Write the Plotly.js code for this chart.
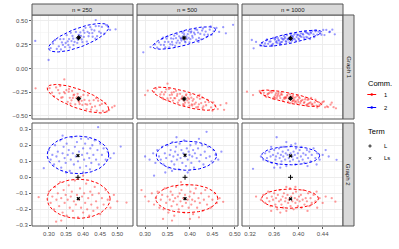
<!DOCTYPE html>
<html><head><meta charset="utf-8">
<script src="https://cdn.plot.ly/plotly-3.0.1.min.js"></script>
<style>html,body{margin:0;padding:0;background:#fff}#chart{width:399px;height:249px}</style>
</head><body><div id="chart"></div>
<script>
const sizeLabels = ["n = 250", "n = 500", "n = 1000"];
const graphLabels = ["Graph 1", "Graph 2"];
const commLabels = ["1", "2"];
const termLabels = ["L", "Ls"];

// ---------- Graph 1 ----------
const g1_250_c2 = [[0.299,0.089],[0.260,0.290],[0.495,0.412],[0.437,0.510],[0.312,0.263],[0.347,0.225],[0.401,0.401],[0.366,0.288],[0.428,0.334],[0.389,0.346],[0.455,0.437],[0.333,0.308],[0.372,0.246],[0.418,0.372],[0.396,0.305],[0.341,0.248],[0.462,0.366],[0.379,0.384],[0.305,0.214],[0.437,0.445],[0.359,0.310],[0.411,0.283],[0.385,0.302],[0.352,0.351],[0.447,0.387],[0.323,0.206],[0.404,0.375],[0.369,0.342],[0.473,0.439],[0.338,0.274],[0.392,0.380],[0.425,0.410],[0.357,0.247],[0.416,0.339],[0.381,0.317],[0.441,0.340],[0.318,0.300],[0.398,0.277],[0.364,0.376],[0.433,0.400],[0.349,0.268],[0.407,0.428],[0.375,0.279],[0.452,0.373],[0.329,0.233],[0.387,0.354],[0.421,0.435],[0.361,0.222],[0.468,0.455],[0.394,0.343],[0.343,0.310],[0.413,0.386],[0.371,0.314],[0.436,0.314],[0.383,0.269],[0.402,0.332],[0.355,0.285],[0.427,0.373],[0.335,0.200],[0.479,0.406],[0.446,0.446]];
const g1_250_c1 = [[0.261,-0.209],[0.345,-0.115],[0.492,-0.395],[0.309,-0.255],[0.351,-0.227],[0.398,-0.384],[0.372,-0.282],[0.431,-0.334],[0.386,-0.339],[0.458,-0.447],[0.336,-0.308],[0.368,-0.237],[0.421,-0.372],[0.393,-0.298],[0.344,-0.248],[0.465,-0.366],[0.377,-0.378],[0.302,-0.207],[0.440,-0.445],[0.361,-0.309],[0.414,-0.283],[0.383,-0.296],[0.355,-0.351],[0.449,-0.386],[0.321,-0.200],[0.407,-0.375],[0.366,-0.335],[0.476,-0.439],[0.331,-0.262],[0.390,-0.374],[0.426,-0.408],[0.358,-0.245],[0.418,-0.338],[0.380,-0.312],[0.444,-0.340],[0.315,-0.293],[0.401,-0.278],[0.363,-0.371],[0.435,-0.399],[0.347,-0.262],[0.410,-0.428],[0.374,-0.275],[0.455,-0.373],[0.327,-0.227],[0.388,-0.352],[0.423,-0.434],[0.359,-0.216],[0.470,-0.452],[0.396,-0.341],[0.340,-0.303],[0.412,-0.381],[0.370,-0.310],[0.438,-0.313],[0.384,-0.267],[0.404,-0.331],[0.485,-0.410],[0.333,-0.185]];
const g1_500_c2 = [[0.296,0.170],[0.496,0.460],[0.312,0.225],[0.480,0.370],[0.331,0.274],[0.356,0.254],[0.402,0.379],[0.379,0.321],[0.420,0.321],[0.365,0.345],[0.444,0.409],[0.342,0.247],[0.390,0.275],[0.411,0.360],[0.373,0.294],[0.395,0.361],[0.437,0.331],[0.348,0.314],[0.383,0.376],[0.427,0.399],[0.361,0.250],[0.406,0.324],[0.385,0.309],[0.453,0.390],[0.338,0.312],[0.399,0.275],[0.369,0.319],[0.416,0.406],[0.352,0.279],[0.432,0.355],[0.377,0.269],[0.392,0.337],[0.446,0.442],[0.327,0.219],[0.409,0.377],[0.363,0.312],[0.387,0.361],[0.423,0.364],[0.345,0.221],[0.401,0.308],[0.371,0.362],[0.440,0.355],[0.358,0.316],[0.414,0.303],[0.381,0.294],[0.397,0.393],[0.459,0.427],[0.335,0.249],[0.429,0.421],[0.367,0.237],[0.393,0.308],[0.418,0.378],[0.350,0.337],[0.384,0.337],[0.405,0.343],[0.376,0.338],[0.435,0.389],[0.344,0.279],[0.389,0.283],[0.412,0.411],[0.360,0.279],[0.425,0.307],[0.397,0.323],[0.465,0.385],[0.322,0.253],[0.380,0.313],[0.403,0.390],[0.354,0.221],[0.448,0.354],[0.370,0.271],[0.386,0.390],[0.419,0.279],[0.340,0.325],[0.474,0.435]];
const g1_500_c1 = [[0.306,-0.234],[0.481,-0.366],[0.300,-0.280],[0.350,-0.160],[0.334,-0.274],[0.359,-0.254],[0.404,-0.378],[0.381,-0.321],[0.422,-0.320],[0.362,-0.338],[0.447,-0.410],[0.345,-0.248],[0.392,-0.274],[0.413,-0.359],[0.371,-0.289],[0.397,-0.360],[0.439,-0.330],[0.350,-0.314],[0.385,-0.376],[0.430,-0.400],[0.364,-0.250],[0.408,-0.323],[0.388,-0.309],[0.456,-0.391],[0.339,-0.310],[0.401,-0.275],[0.367,-0.314],[0.418,-0.405],[0.355,-0.280],[0.434,-0.354],[0.378,-0.267],[0.394,-0.336],[0.450,-0.444],[0.325,-0.214],[0.410,-0.376],[0.365,-0.312],[0.389,-0.360],[0.425,-0.364],[0.347,-0.220],[0.403,-0.307],[0.373,-0.361],[0.442,-0.354],[0.357,-0.312],[0.416,-0.303],[0.383,-0.293],[0.399,-0.392],[0.462,-0.428],[0.337,-0.248],[0.428,-0.417],[0.369,-0.236],[0.395,-0.308],[0.420,-0.378],[0.352,-0.336],[0.386,-0.337],[0.406,-0.341],[0.376,-0.335],[0.436,-0.387],[0.342,-0.274],[0.391,-0.283],[0.414,-0.410],[0.360,-0.276],[0.427,-0.306],[0.398,-0.321],[0.468,-0.385],[0.320,-0.248],[0.382,-0.312],[0.405,-0.390],[0.353,-0.217],[0.452,-0.356],[0.372,-0.270],[0.387,-0.388],[0.421,-0.279],[0.341,-0.323],[0.476,-0.435]];
const g1_1000_c2 = [[0.323,0.300],[0.326,0.212],[0.452,0.387],[0.460,0.360],[0.330,0.280],[0.352,0.282],[0.371,0.277],[0.398,0.353],[0.384,0.314],[0.409,0.327],[0.366,0.320],[0.421,0.373],[0.358,0.260],[0.389,0.291],[0.402,0.348],[0.377,0.315],[0.393,0.356],[0.415,0.325],[0.361,0.304],[0.381,0.350],[0.428,0.392],[0.369,0.264],[0.405,0.332],[0.386,0.307],[0.436,0.373],[0.347,0.295],[0.396,0.290],[0.374,0.311],[0.412,0.381],[0.364,0.288],[0.425,0.358],[0.379,0.287],[0.391,0.333],[0.441,0.405],[0.343,0.240],[0.407,0.364],[0.372,0.318],[0.388,0.349],[0.418,0.359],[0.356,0.247],[0.400,0.315],[0.376,0.343],[0.431,0.356],[0.367,0.302],[0.410,0.308],[0.383,0.303],[0.395,0.369],[0.446,0.406],[0.350,0.259],[0.423,0.396],[0.370,0.256],[0.392,0.315],[0.414,0.374],[0.359,0.321],[0.385,0.325],[0.403,0.339],[0.378,0.326],[0.433,0.389],[0.354,0.284],[0.390,0.302],[0.411,0.390],[0.363,0.276],[0.426,0.329],[0.397,0.331],[0.451,0.382],[0.340,0.266],[0.382,0.311],[0.404,0.370],[0.357,0.238],[0.438,0.355],[0.373,0.280],[0.387,0.368],[0.419,0.310],[0.348,0.307],[0.456,0.409],[0.380,0.279],[0.399,0.354],[0.365,0.269],[0.416,0.366],[0.394,0.307],[0.375,0.302],[0.408,0.356],[0.429,0.400],[0.345,0.263],[0.401,0.306],[0.362,0.315],[0.385,0.275],[0.420,0.382],[0.368,0.293],[0.443,0.352],[0.390,0.342],[0.413,0.332],[0.337,0.242]];
const g1_1000_c1 = [[0.315,-0.244],[0.447,-0.400],[0.455,-0.360],[0.325,-0.280],[0.462,-0.420],[0.349,-0.274],[0.373,-0.276],[0.396,-0.346],[0.386,-0.313],[0.411,-0.326],[0.364,-0.314],[0.423,-0.372],[0.356,-0.253],[0.391,-0.289],[0.404,-0.346],[0.379,-0.313],[0.394,-0.353],[0.417,-0.324],[0.360,-0.298],[0.383,-0.349],[0.430,-0.391],[0.367,-0.258],[0.407,-0.330],[0.388,-0.305],[0.438,-0.371],[0.345,-0.289],[0.398,-0.289],[0.376,-0.309],[0.414,-0.380],[0.362,-0.281],[0.427,-0.357],[0.381,-0.286],[0.393,-0.332],[0.444,-0.409],[0.341,-0.233],[0.409,-0.363],[0.370,-0.312],[0.390,-0.348],[0.420,-0.358],[0.354,-0.240],[0.402,-0.314],[0.374,-0.337],[0.433,-0.355],[0.365,-0.295],[0.412,-0.307],[0.385,-0.301],[0.397,-0.367],[0.449,-0.406],[0.352,-0.258],[0.425,-0.394],[0.372,-0.254],[0.392,-0.311],[0.416,-0.372],[0.358,-0.316],[0.384,-0.320],[0.405,-0.338],[0.377,-0.321],[0.435,-0.387],[0.350,-0.265],[0.389,-0.297],[0.413,-0.388],[0.366,-0.276],[0.428,-0.328],[0.399,-0.330],[0.453,-0.381],[0.338,-0.259],[0.380,-0.305],[0.403,-0.365],[0.359,-0.237],[0.440,-0.354],[0.371,-0.273],[0.387,-0.364],[0.421,-0.309],[0.347,-0.301],[0.458,-0.408],[0.382,-0.277],[0.400,-0.351],[0.363,-0.262],[0.418,-0.365],[0.395,-0.305],[0.378,-0.302],[0.410,-0.354],[0.431,-0.412],[0.343,-0.256],[0.401,-0.302],[0.361,-0.310],[0.386,-0.273],[0.422,-0.380],[0.369,-0.290],[0.442,-0.347],[0.391,-0.339],[0.415,-0.331],[0.336,-0.237]];

// ---------- Graph 2 ----------
const g2_250_c2 = [[0.444,0.313],[0.510,0.192],[0.285,0.057],[0.300,0.170],[0.305,0.110],[0.310,0.140],[0.315,0.080],[0.318,0.200],[0.322,0.130],[0.326,0.160],[0.330,0.100],[0.333,0.230],[0.336,0.060],[0.340,0.150],[0.343,0.190],[0.346,0.120],[0.349,0.090],[0.352,0.210],[0.355,0.140],[0.358,0.170],[0.361,0.040],[0.364,0.110],[0.367,0.250],[0.370,0.150],[0.373,0.080],[0.376,0.190],[0.379,0.130],[0.382,0.220],[0.385,0.100],[0.388,0.160],[0.391,0.060],[0.394,0.240],[0.397,0.140],[0.400,0.180],[0.403,0.110],[0.406,0.210],[0.409,0.070],[0.412,0.150],[0.415,0.240],[0.418,0.120],[0.421,0.180],[0.424,0.090],[0.427,0.200],[0.430,0.140],[0.434,0.230],[0.438,0.110],[0.442,0.170],[0.446,0.080],[0.450,0.210],[0.455,0.140],[0.460,0.180],[0.466,0.110],[0.472,0.160],[0.480,0.120],[0.490,0.150],[0.350,0.030],[0.400,0.030],[0.420,0.050],[0.340,0.260]];
const g2_250_c1 = [[0.270,-0.124],[0.527,-0.158],[0.321,-0.277],[0.336,-0.270],[0.400,0.010],[0.300,-0.090],[0.305,-0.160],[0.310,-0.120],[0.315,-0.200],[0.318,-0.060],[0.322,-0.140],[0.326,-0.100],[0.330,-0.180],[0.333,-0.030],[0.336,-0.130],[0.340,-0.220],[0.343,-0.080],[0.346,-0.160],[0.349,-0.110],[0.352,-0.240],[0.355,-0.140],[0.358,-0.050],[0.361,-0.190],[0.364,-0.120],[0.367,-0.090],[0.370,-0.210],[0.373,-0.150],[0.376,-0.020],[0.379,-0.170],[0.382,-0.110],[0.385,-0.250],[0.388,-0.140],[0.391,-0.070],[0.394,-0.190],[0.397,-0.120],[0.400,-0.220],[0.403,-0.100],[0.406,-0.160],[0.409,-0.040],[0.412,-0.200],[0.415,-0.130],[0.418,-0.240],[0.421,-0.090],[0.424,-0.170],[0.427,-0.110],[0.430,-0.210],[0.434,-0.060],[0.438,-0.150],[0.442,-0.190],[0.446,-0.100],[0.450,-0.230],[0.455,-0.130],[0.460,-0.170],[0.466,-0.080],[0.472,-0.140],[0.480,-0.190],[0.490,-0.110],[0.500,-0.150]];
const g2_500_c2 = [[0.437,0.284],[0.320,0.010],[0.300,0.130],[0.310,0.110],[0.318,0.150],[0.323,0.090],[0.327,0.170],[0.331,0.130],[0.335,0.110],[0.338,0.190],[0.341,0.080],[0.344,0.150],[0.347,0.120],[0.350,0.200],[0.352,0.060],[0.355,0.140],[0.357,0.170],[0.359,0.100],[0.361,0.220],[0.363,0.130],[0.365,0.080],[0.367,0.160],[0.369,0.190],[0.371,0.110],[0.373,0.140],[0.375,0.050],[0.377,0.210],[0.379,0.120],[0.381,0.170],[0.383,0.090],[0.385,0.150],[0.387,0.230],[0.389,0.130],[0.391,0.070],[0.393,0.180],[0.395,0.110],[0.397,0.160],[0.399,0.140],[0.401,0.200],[0.403,0.090],[0.405,0.130],[0.407,0.170],[0.409,0.060],[0.411,0.150],[0.413,0.210],[0.415,0.120],[0.418,0.180],[0.421,0.100],[0.424,0.140],[0.427,0.200],[0.430,0.080],[0.433,0.160],[0.436,0.120],[0.440,0.190],[0.444,0.130],[0.448,0.100],[0.452,0.170],[0.457,0.140],[0.463,0.110],[0.470,0.160],[0.345,0.030],[0.370,0.250],[0.395,0.030],[0.420,0.240],[0.360,0.040]];
const g2_500_c1 = [[0.292,-0.080],[0.474,-0.153],[0.300,-0.120],[0.308,-0.150],[0.315,-0.100],[0.320,-0.170],[0.324,-0.130],[0.328,-0.090],[0.332,-0.190],[0.335,-0.140],[0.338,-0.110],[0.341,-0.200],[0.344,-0.070],[0.347,-0.160],[0.350,-0.120],[0.352,-0.220],[0.355,-0.140],[0.357,-0.090],[0.359,-0.180],[0.361,-0.110],[0.363,-0.150],[0.365,-0.240],[0.367,-0.130],[0.369,-0.060],[0.371,-0.170],[0.373,-0.120],[0.375,-0.200],[0.377,-0.100],[0.379,-0.150],[0.381,-0.080],[0.383,-0.180],[0.385,-0.130],[0.387,-0.220],[0.389,-0.110],[0.391,-0.160],[0.393,-0.050],[0.395,-0.140],[0.397,-0.190],[0.399,-0.120],[0.401,-0.090],[0.403,-0.170],[0.405,-0.140],[0.407,-0.230],[0.409,-0.100],[0.411,-0.150],[0.413,-0.070],[0.416,-0.190],[0.419,-0.130],[0.422,-0.160],[0.425,-0.100],[0.428,-0.210],[0.431,-0.140],[0.434,-0.080],[0.438,-0.170],[0.442,-0.120],[0.446,-0.190],[0.450,-0.140],[0.455,-0.100],[0.460,-0.160],[0.466,-0.130],[0.340,-0.260],[0.380,-0.030],[0.420,-0.250],[0.360,-0.270],[0.400,-0.260]];
const g2_1000_c2 = [[0.325,0.053],[0.463,0.109],[0.364,0.250],[0.338,0.130],[0.342,0.110],[0.345,0.150],[0.348,0.120],[0.350,0.100],[0.352,0.160],[0.354,0.130],[0.356,0.090],[0.358,0.140],[0.360,0.170],[0.362,0.110],[0.363,0.130],[0.365,0.080],[0.366,0.150],[0.368,0.180],[0.369,0.120],[0.371,0.140],[0.372,0.100],[0.374,0.160],[0.375,0.130],[0.376,0.190],[0.378,0.110],[0.379,0.150],[0.380,0.070],[0.382,0.140],[0.383,0.170],[0.384,0.120],[0.386,0.100],[0.387,0.150],[0.388,0.200],[0.390,0.130],[0.391,0.110],[0.392,0.160],[0.394,0.140],[0.395,0.080],[0.396,0.180],[0.398,0.120],[0.399,0.150],[0.401,0.100],[0.402,0.170],[0.404,0.130],[0.405,0.190],[0.407,0.110],[0.408,0.150],[0.410,0.090],[0.412,0.140],[0.414,0.170],[0.416,0.120],[0.418,0.160],[0.420,0.100],[0.422,0.140],[0.425,0.180],[0.428,0.120],[0.431,0.150],[0.435,0.110],[0.440,0.140],[0.445,0.170],[0.450,0.130],[0.370,0.060],[0.395,0.210],[0.415,0.070],[0.355,0.190],[0.380,0.220],[0.430,0.080],[0.360,0.060]];
const g2_1000_c1 = [[0.461,-0.152],[0.455,-0.130],[0.330,-0.120],[0.338,-0.140],[0.342,-0.110],[0.345,-0.160],[0.348,-0.130],[0.350,-0.090],[0.352,-0.150],[0.354,-0.180],[0.356,-0.120],[0.358,-0.140],[0.360,-0.100],[0.362,-0.170],[0.363,-0.130],[0.365,-0.200],[0.366,-0.110],[0.368,-0.150],[0.369,-0.080],[0.371,-0.140],[0.372,-0.170],[0.374,-0.120],[0.375,-0.190],[0.376,-0.100],[0.378,-0.150],[0.379,-0.130],[0.380,-0.210],[0.382,-0.110],[0.383,-0.160],[0.384,-0.140],[0.386,-0.070],[0.387,-0.180],[0.388,-0.120],[0.390,-0.150],[0.391,-0.100],[0.392,-0.200],[0.394,-0.130],[0.395,-0.160],[0.396,-0.090],[0.398,-0.140],[0.399,-0.180],[0.401,-0.120],[0.402,-0.150],[0.404,-0.110],[0.405,-0.190],[0.407,-0.140],[0.408,-0.080],[0.410,-0.170],[0.412,-0.130],[0.414,-0.150],[0.416,-0.100],[0.418,-0.180],[0.420,-0.130],[0.422,-0.160],[0.425,-0.110],[0.428,-0.150],[0.431,-0.190],[0.435,-0.130],[0.440,-0.160],[0.445,-0.120],[0.370,-0.220],[0.395,-0.060],[0.415,-0.210],[0.355,-0.210],[0.380,-0.060],[0.430,-0.090]];

// 95% ellipses per panel: [cx, cy, halfWidthX, halfHeightY, phaseDeg] for Comm 1, Comm 2
const ell_g1_250  = [[0.385,-0.318,0.090,0.150,136],[0.387,0.324,0.088,0.150,44]];
const ell_g1_500  = [[0.387,-0.318,0.071,0.122,138],[0.387,0.321,0.070,0.118,42]];
const ell_g1_1000 = [[0.387,-0.314,0.051,0.087,142],[0.387,0.318,0.051,0.085,38]];
const ell_g2_250  = [[0.387,-0.134,0.092,0.122,90],[0.385,0.140,0.090,0.117,90]];
const ell_g2_500  = [[0.393,-0.133,0.069,0.088,90],[0.392,0.135,0.067,0.091,90]];
const ell_g2_1000 = [[0.386,-0.133,0.047,0.060,90],[0.387,0.135,0.048,0.057,90]];

// Term estimates: Ls (per community) and L
const ls_g1_250 = [[0.387,-0.318],[0.387,0.324]];
const ls_g1_500 = [[0.387,-0.320],[0.387,0.321]];
const ls_g1_1000 = [[0.387,-0.314],[0.387,0.318]];
const ls_g2_250 = [[0.386,-0.133],[0.385,0.136]];
const ls_g2_500 = [[0.389,-0.133],[0.389,0.138]];
const ls_g2_1000 = [[0.387,-0.135],[0.387,0.134]];
const l_g1_250 = [[0.387,-0.318],[0.387,0.324]];
const l_g1_500 = [[0.387,-0.320],[0.387,0.321]];
const l_g1_1000 = [[0.387,-0.314],[0.387,0.318]];
const l_g2_250 = [[0.385,0.000]];
const l_g2_500 = [[0.389,0.000]];
const l_g2_1000 = [[0.387,0.000]];

const panels = [
  {r:0,c:0,p:[g1_250_c1,g1_250_c2],e:ell_g1_250,ls:ls_g1_250,l:l_g1_250},
  {r:0,c:1,p:[g1_500_c1,g1_500_c2],e:ell_g1_500,ls:ls_g1_500,l:l_g1_500},
  {r:0,c:2,p:[g1_1000_c1,g1_1000_c2],e:ell_g1_1000,ls:ls_g1_1000,l:l_g1_1000},
  {r:1,c:0,p:[g2_250_c1,g2_250_c2],e:ell_g2_250,ls:ls_g2_250,l:l_g2_250},
  {r:1,c:1,p:[g2_500_c1,g2_500_c2],e:ell_g2_500,ls:ls_g2_500,l:l_g2_500},
  {r:1,c:2,p:[g2_1000_c1,g2_1000_c2],e:ell_g2_1000,ls:ls_g2_1000,l:l_g2_1000}
];

const W = 399, H = 249;
const FONT = "Liberation Sans, Arial, Helvetica, sans-serif";
const px = v => v / W, py = v => 1 - v / H;
const colPx = [[32,133],[137,238],[242,343]];
const rowPx = [[15,119],[123,226]];
const colDom = colPx.map(a => [px(a[0]), px(a[1])]);
const rowDom = rowPx.map(a => [py(a[1]), py(a[0])]);
const xRanges = [[0.2505,0.546],[0.282,0.507],[0.3068,0.4736]];
const xTick = [[0.30,0.05],[0.30,0.05],[0.32,0.04]];
const yRanges = [[-0.532,0.563],[-0.304,0.339]];
const yTick = [[0,0.25,'.2f'],[0,0.1,'.1f']];
const commColors = ['#FF0000','#0000FF'];
const commPoint = ['rgba(255,0,0,0.4)','rgba(0,0,255,0.4)'];

const traces = [];
const layout = {
  width: W, height: H, autosize: false,
  margin: {l:0,r:0,t:0,b:0,pad:0},
  paper_bgcolor: '#ffffff', plot_bgcolor: '#ffffff',
  showlegend: false,
  font: {family: FONT, size: 6, color: '#4D4D4D'},
  shapes: [], annotations: []
};

function ellipse(p){
  const [cx,cy,A,B,d] = p; const xs=[], ys=[];
  for (let k=0;k<=90;k++){ const t=k*4*Math.PI/180;
    xs.push(cx + A*Math.cos(t)); ys.push(cy + B*Math.cos(t - d*Math.PI/180)); }
  return {xs, ys};
}

panels.forEach(pn => {
  const idx = pn.r*3 + pn.c + 1;
  const xs = idx === 1 ? '' : String(idx);
  const xa = 'x'+xs, ya = 'y'+xs;
  layout['xaxis'+xs] = {
    domain: colDom[pn.c], range: xRanges[pn.c], anchor: ya,
    tick0: xTick[pn.c][0], dtick: xTick[pn.c][1], tickformat: '.2f',
    showticklabels: pn.r === 1, ticks: pn.r === 1 ? 'outside' : '',
    ticklen: 2, tickwidth: 0.8, tickcolor: '#333333',
    tickfont: {family: FONT, size: 6, color: '#4D4D4D'},
    showgrid: true, gridcolor: '#EBEBEB', gridwidth: 0.9,
    minor: {tick0: xTick[pn.c][0], dtick: xTick[pn.c][1]/2, showgrid: true, gridcolor: '#F1F1F1', gridwidth: 0.5},
    zeroline: false, showline: false, fixedrange: true
  };
  layout['yaxis'+xs] = {
    domain: rowDom[pn.r], range: yRanges[pn.r], anchor: xa,
    tick0: yTick[pn.r][0], dtick: yTick[pn.r][1], tickformat: yTick[pn.r][2],
    showticklabels: pn.c === 0, ticks: pn.c === 0 ? 'outside' : '',
    ticklen: 2, tickwidth: 0.8, tickcolor: '#333333',
    tickfont: {family: FONT, size: 6, color: '#4D4D4D'},
    showgrid: true, gridcolor: '#EBEBEB', gridwidth: 0.9,
    minor: {tick0: 0, dtick: yTick[pn.r][1]/2, showgrid: true, gridcolor: '#F1F1F1', gridwidth: 0.5},
    zeroline: false, showline: false, fixedrange: true
  };
  pn.p.forEach((pts, ci) => {
    traces.push({type:'scatter', mode:'markers', xaxis:xa, yaxis:ya,
      x: pts.map(d=>d[0]), y: pts.map(d=>d[1]),
      marker:{size:2.3, color:commPoint[ci], line:{width:0}}, hoverinfo:'skip', name: commLabels[ci]});
  });
  pn.e.forEach((ep, ci) => {
    const el = ellipse(ep);
    traces.push({type:'scatter', mode:'lines', xaxis:xa, yaxis:ya, x: el.xs, y: el.ys,
      line:{color:commColors[ci], width:1, dash:'3px,2px'}, hoverinfo:'skip'});
  });
  traces.push({type:'scatter', mode:'markers', xaxis:xa, yaxis:ya,
    x: pn.l.map(d=>d[0]), y: pn.l.map(d=>d[1]), name: termLabels[0],
    marker:{symbol:'cross-thin', size:3.5, color:'#000', line:{width:1, color:'#000'}}, hoverinfo:'skip'});
  traces.push({type:'scatter', mode:'markers', xaxis:xa, yaxis:ya,
    x: pn.ls.map(d=>d[0]), y: pn.ls.map(d=>d[1]), name: termLabels[1],
    marker:{symbol:'x-thin', size:2.8, color:'#000', line:{width:1.3, color:'#000'}}, hoverinfo:'skip'});
  layout.shapes.push({type:'rect', xref:'paper', yref:'paper', layer:'above',
    x0: colDom[pn.c][0], x1: colDom[pn.c][1], y0: rowDom[pn.r][0], y1: rowDom[pn.r][1],
    line:{color:'#555555', width:1}, fillcolor:'rgba(0,0,0,0)'});
});

sizeLabels.forEach((s, c) => {
  layout.shapes.push({type:'rect', xref:'paper', yref:'paper', x0: colDom[c][0], x1: colDom[c][1],
    y0: py(15), y1: py(4), fillcolor:'#D9D9D9', line:{color:'#555555', width:1}});
  layout.annotations.push({xref:'paper', yref:'paper', x:(colDom[c][0]+colDom[c][1])/2, y:py(9.6),
    text:s, showarrow:false, font:{family:FONT, size:6, color:'#1A1A1A'}, xanchor:'center', yanchor:'middle'});
});
graphLabels.forEach((g, r) => {
  layout.shapes.push({type:'rect', xref:'paper', yref:'paper', x0: px(343), x1: px(354),
    y0: rowDom[r][0], y1: rowDom[r][1], fillcolor:'#D9D9D9', line:{color:'#555555', width:1}});
  layout.annotations.push({xref:'paper', yref:'paper', x:px(348.7), y:(rowDom[r][0]+rowDom[r][1])/2,
    text:g, textangle:90, showarrow:false, font:{family:FONT, size:6, color:'#1A1A1A'}, xanchor:'center', yanchor:'middle'});
});

const legTitle = {family:FONT, size:7.5, color:'#000'};
const legText = {family:FONT, size:5.8, color:'#000'};
layout.annotations.push({xref:'paper', yref:'paper', x:px(366), y:py(83.5), text:'Comm.', showarrow:false, xanchor:'left', yanchor:'middle', font:legTitle});
layout.annotations.push({xref:'paper', yref:'paper', x:px(366), y:py(131.5), text:'Term', showarrow:false, xanchor:'left', yanchor:'middle', font:legTitle});
const commKeyY = [94.5, 107.5];
commLabels.forEach((lab, i) => {
  const yy = commKeyY[i];
  layout.shapes.push({type:'line', xref:'paper', yref:'paper', x0:px(367.3), x1:px(376.2), y0:py(yy), y1:py(yy), line:{color:commColors[i], width:1}});
  layout.shapes.push({type:'circle', xref:'paper', yref:'paper', x0:px(370.5), x1:px(373), y0:py(yy+1.25), y1:py(yy-1.25), fillcolor:commColors[i], line:{width:0}});
  layout.annotations.push({xref:'paper', yref:'paper', x:px(381.5), y:py(yy), text:lab, showarrow:false, xanchor:'left', yanchor:'middle', font:legText});
});
const termKeyY = [146, 158.3];
layout.shapes.push({type:'line', xref:'paper', yref:'paper', x0:px(368.3), x1:px(371.7), y0:py(termKeyY[0]), y1:py(termKeyY[0]), line:{color:'#000', width:0.8}});
layout.shapes.push({type:'line', xref:'paper', yref:'paper', x0:px(370), x1:px(370), y0:py(termKeyY[0]-1.7), y1:py(termKeyY[0]+1.7), line:{color:'#000', width:0.8}});
layout.shapes.push({type:'line', xref:'paper', yref:'paper', x0:px(368.8), x1:px(371.2), y0:py(termKeyY[1]-1.2), y1:py(termKeyY[1]+1.2), line:{color:'#000', width:0.8}});
layout.shapes.push({type:'line', xref:'paper', yref:'paper', x0:px(368.8), x1:px(371.2), y0:py(termKeyY[1]+1.2), y1:py(termKeyY[1]-1.2), line:{color:'#000', width:0.8}});
termLabels.forEach((lab, i) => {
  layout.annotations.push({xref:'paper', yref:'paper', x:px(381.5), y:py(termKeyY[i]), text:lab, showarrow:false, xanchor:'left', yanchor:'middle', font:legText});
});

Plotly.newPlot('chart', traces, layout, {displayModeBar:false, staticPlot:true});
</script>
</body></html>
